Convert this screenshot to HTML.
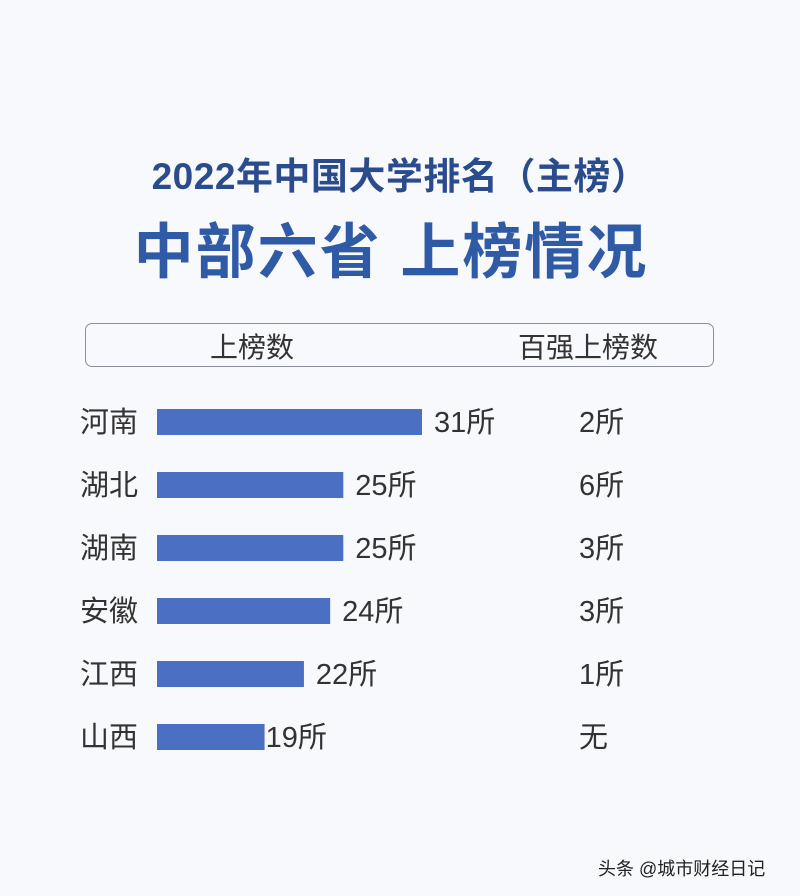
<!DOCTYPE html>
<html><head><meta charset="utf-8"><style>
body{margin:0;width:800px;height:896px;background:#f8f9fc;font-family:"Liberation Sans","Noto Sans CJK SC",sans-serif;position:relative;overflow:hidden}
.t{position:absolute;white-space:nowrap}
</style></head><body>
<div class="t" style="left:0;width:800px;text-align:center;top:146px;font-size:37px;font-weight:bold;color:#2b4c8c;letter-spacing:0.5px">2022年中国大学排名（主榜）</div>
<div class="t" style="left:0;width:782px;text-align:center;top:204px;font-size:60px;font-weight:bold;color:#2f5aa6;letter-spacing:2px">中部六省 上榜情况</div>
<div style="position:absolute;left:85px;top:323px;width:627px;height:42px;border:1.5px solid #8a8f9a;border-radius:7px"></div>
<div class="t" style="left:210px;top:326px;font-size:28px;color:#333">上榜数</div>
<div class="t" style="left:518px;top:326px;font-size:28px;color:#333">百强上榜数</div>
<svg id="chart" width="800" height="896" style="position:absolute;left:0;top:0"></svg>
<div class="t" style="left:598px;top:855px;font-size:18px;color:#222">头条 @城市财经日记</div>
<script>
const provinces=["河南","湖北","湖南","安徽","江西","山西"];
const counts=[31,25,25,24,22,19];
const top100=["2所","6所","3所","3所","1所","无"];
const svg=document.getElementById('chart');
const NS='http://www.w3.org/2000/svg';
const x=v=>(v-10.8)/(31-10.8)*265;
const y=i=>422+i*63;
provinces.forEach((p,i)=>{
  const cy=y(i);
  const t=document.createElementNS(NS,'text');
  t.setAttribute('x',80);t.setAttribute('y',cy+10);t.setAttribute('font-size',29);t.setAttribute('fill','#333');
  t.textContent=p;
  
  
  svg.appendChild(t);
  const w=x(counts[i]);
  const r=document.createElementNS(NS,'rect');
  r.setAttribute('x',157);r.setAttribute('y',cy-13);r.setAttribute('width',w);r.setAttribute('height',26);r.setAttribute('fill','#4b6fc2');
  
  
  svg.appendChild(r);
  const v=document.createElementNS(NS,'text');
  v.setAttribute('x',157+w+(w>125?12:1));v.setAttribute('y',cy+10);v.setAttribute('font-size',29);v.setAttribute('fill','#333');
  v.textContent=counts[i]+'所';
  
  
  svg.appendChild(v);
  const s=document.createElementNS(NS,'text');
  s.setAttribute('x',579);s.setAttribute('y',cy+10);s.setAttribute('font-size',29);s.setAttribute('fill','#333');
  s.textContent=top100[i];
  
  
  svg.appendChild(s);
});
</script>
</body></html>
